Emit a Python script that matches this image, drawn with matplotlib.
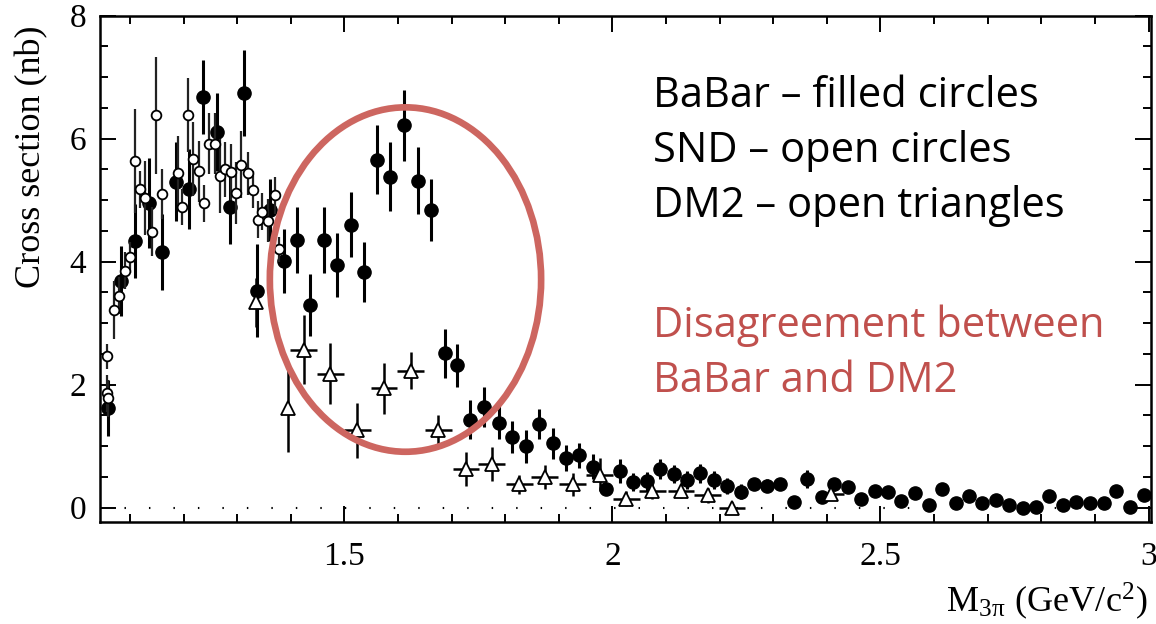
import matplotlib
matplotlib.use('Agg')
import matplotlib.pyplot as plt
from matplotlib.patches import Ellipse
from matplotlib.ticker import MultipleLocator

# ---------------- data ----------------
babar_x = [1.059, 1.084, 1.109, 1.136, 1.160, 1.186, 1.211, 1.236, 1.262, 1.287,
           1.312, 1.337, 1.362, 1.387, 1.411, 1.436, 1.462, 1.486, 1.512, 1.536,
           1.561, 1.586, 1.611, 1.637, 1.662, 1.687, 1.710, 1.735, 1.760, 1.788,
           1.813, 1.839, 1.863, 1.889, 1.913, 1.938, 1.963, 1.988, 2.014, 2.039,
           2.064, 2.088, 2.114, 2.139, 2.164, 2.189, 2.214, 2.239, 2.264, 2.289,
           2.313, 2.338, 2.363, 2.390, 2.414, 2.439, 2.464, 2.489, 2.514, 2.539,
           2.565, 2.591, 2.615, 2.640, 2.665, 2.689, 2.715, 2.740, 2.765, 2.790,
           2.815, 2.840, 2.865, 2.891, 2.916, 2.940, 2.966, 2.991]
babar_y = [1.62, 3.68, 4.34, 4.95, 4.16, 5.30, 5.18, 6.68, 6.11, 4.89,
           6.74, 3.53, 4.84, 4.01, 4.35, 3.30, 4.35, 3.94, 4.60, 3.83,
           5.66, 5.38, 6.22, 5.32, 4.84, 2.51, 2.32, 1.43, 1.64, 1.38,
           1.15, 1.00, 1.36, 1.05, 0.81, 0.85, 0.67, 0.31, 0.60, 0.42,
           0.43, 0.63, 0.55, 0.45, 0.56, 0.45, 0.36, 0.26, 0.39, 0.36,
           0.39, 0.10, 0.47, 0.17, 0.38, 0.33, 0.15, 0.27, 0.25, 0.11,
           0.24, 0.04, 0.31, 0.08, 0.19, 0.07, 0.12, 0.04, -0.01, 0.01,
           0.19, 0.05, 0.09, 0.08, 0.08, 0.27, 0.01, 0.20]
babar_err = [0.45, 0.57, 0.60, 0.73, 0.62, 0.64, 0.65, 0.60, 0.63, 0.60,
             0.70, 0.75, 0.50, 0.52, 0.54, 0.50, 0.54, 0.52, 0.53, 0.49,
             0.56, 0.56, 0.58, 0.55, 0.50, 0.40, 0.35, 0.32, 0.32, 0.27,
             0.26, 0.27, 0.25, 0.25, 0.21, 0.21, 0.20, 0.10, 0.20, 0.15,
             0.15, 0.16, 0.15, 0.15, 0.15, 0.14, 0.13, 0.12, 0.10, 0.10,
             0.10, 0.08, 0.15, 0.08, 0.10, 0.08, 0.06, 0.05, 0.05, 0.05,
             0.05, 0.05, 0.05, 0.05, 0.05, 0.05, 0.05, 0.05, 0.05, 0.05,
             0.05, 0.05, 0.05, 0.05, 0.05, 0.05, 0.05, 0.05]

snd_x = [1.057, 1.057, 1.060, 1.070, 1.080, 1.091, 1.100, 1.109, 1.119, 1.128,
         1.141, 1.149, 1.160, 1.189, 1.198, 1.209, 1.218, 1.229, 1.238, 1.248,
         1.258, 1.268, 1.277, 1.289, 1.298, 1.307, 1.320, 1.330, 1.338, 1.347,
         1.357, 1.370, 1.379]
snd_y = [2.46, 1.86, 1.78, 3.21, 3.45, 3.85, 4.07, 5.64, 5.18, 5.03,
         4.49, 6.38, 5.10, 5.44, 4.89, 6.38, 5.67, 5.47, 4.95, 5.92,
         5.92, 5.40, 5.50, 5.46, 5.12, 5.58, 5.44, 5.17, 4.68, 4.81,
         4.67, 5.08, 4.20]
snd_err = [0.20, 0.30, 0.30, 0.47, 0.30, 0.30, 0.25, 0.85, 0.30, 0.60,
           0.40, 0.95, 0.40, 0.60, 0.30, 0.60, 0.60, 0.50, 0.30, 0.50,
           0.50, 0.60, 0.45, 0.45, 0.50, 0.55, 0.35, 0.30, 0.30, 0.30,
           0.35, 0.30, 0.20]

dm2_x = [1.335, 1.394, 1.424, 1.474, 1.524, 1.574, 1.624, 1.675, 1.727, 1.775,
         1.826, 1.874, 1.926, 1.976, 2.026, 2.074, 2.128, 2.178, 2.223, 2.407]
dm2_y = [3.34, 1.62, 2.57, 2.18, 1.26, 1.94, 2.23, 1.26, 0.63, 0.71,
         0.38, 0.50, 0.38, 0.54, 0.15, 0.27, 0.28, 0.20, 0.00, 0.23]
dm2_err = [0.40, 0.72, 0.56, 0.50, 0.45, 0.42, 0.30, 0.25, 0.28, 0.28,
           0.16, 0.20, 0.19, 0.27, 0.12, 0.12, 0.12, 0.12, 0.10, 0.10]
dm2_xerr = [0.0, 0.0, 0.025, 0.025, 0.025, 0.025, 0.025, 0.025, 0.025, 0.025,
            0.025, 0.025, 0.025, 0.025, 0.025, 0.025, 0.025, 0.025, 0.025, 0.025]

xtick_vals = [1.5, 2.0, 2.5, 3.0]
xtick_labels = ['1.5', '2', '2.5', '3']
ytick_vals = [0, 2, 4, 6, 8]
ytick_labels = ['0', '2', '4', '6', '8']

legend_lines = ['BaBar \u2013 filled circles', 'SND \u2013 open circles', 'DM2 \u2013 open triangles']
note_lines = ['Disagreement between', 'BaBar and DM2']

# ---------------- figure ----------------
plt.rcParams['mathtext.fontset'] = 'stix'
plt.rcParams['font.family'] = ['Liberation Serif', 'DejaVu Serif']

W, H = 1156, 624
fig = plt.figure(figsize=(W / 100, H / 100), dpi=100)
ax = fig.add_axes([100 / W, 1 - 522 / H, 1050.7 / W, (522 - 15.7) / H])

ax.axhline(0, color='black', lw=1.5, ls=(0, (0.7, 11.05)), zorder=1)

ax.errorbar(babar_x, babar_y, yerr=babar_err, fmt='o', ms=9.5, mfc='black', mec='black',
            ecolor='black', elinewidth=2.2, capsize=0, zorder=3)
ax.errorbar(snd_x, snd_y, yerr=snd_err, fmt='o', ms=7, mfc='white', mec='black', mew=1.3,
            ecolor='#222222', elinewidth=1.6, capsize=0, zorder=4)
ax.errorbar(dm2_x, dm2_y, yerr=dm2_err, xerr=dm2_xerr, fmt='^', ms=10, mfc='white', mec='black',
            mew=1.3, ecolor='black', elinewidth=1.8, capsize=0, zorder=5)

ax.add_patch(Ellipse((1.614, 3.71), 0.506, 5.60, fill=False, ec='#cd6660', lw=4.8, zorder=6))

ax.set_xlim(1.0442, 3.004)
ax.set_ylim(-0.232, 8.0)

ax.set_xticks(xtick_vals)
ax.set_xticklabels(xtick_labels)
ax.set_yticks(ytick_vals)
ax.set_yticklabels(ytick_labels)
ax.xaxis.set_minor_locator(MultipleLocator(0.1))
ax.yaxis.set_minor_locator(MultipleLocator(0.5))
ax.tick_params(which='both', direction='in', top=True, right=True, width=1.4, labelsize=24)
ax.tick_params(which='major', length=11.5)
ax.tick_params(which='minor', length=5.8)
ax.tick_params(axis='x', pad=14)
ax.tick_params(axis='y', pad=10)
for s in ax.spines.values():
    s.set_linewidth(1.8)

fig.text(32 / W, 1 - 157 / H, 'Cross section (nb)', rotation=90, ha='center', va='center', fontsize=26)
fig.text(1148 / W, 1 - 612 / H, 'M$_{\\mathregular{3\u03c0}}$ (GeV/c$^{\\mathregular{2}}$)',
         ha='right', va='baseline', fontsize=26)

for t, yb in zip(legend_lines, [106.7, 161.5, 216.7]):
    fig.text(653 / W, 1 - yb / H, t, ha='left', va='baseline', fontsize=30,
             family=['Open Sans', 'DejaVu Sans'], color='black')
for t, yb in zip(note_lines, [336.7, 391.7]):
    fig.text(653 / W, 1 - yb / H, t, ha='left', va='baseline', fontsize=30,
             family=['Open Sans', 'DejaVu Sans'], color='#c0504d')

fig.savefig('out.png', dpi=100)
